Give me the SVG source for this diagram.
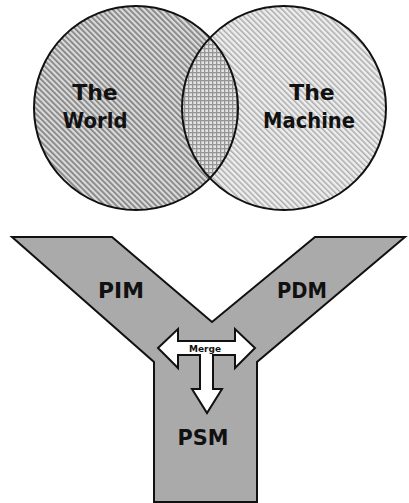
<svg xmlns="http://www.w3.org/2000/svg" width="409" height="503" viewBox="0 0 409 503">
<defs>
<pattern id="hatchDark" patternUnits="userSpaceOnUse" width="4" height="4" patternTransform="rotate(-45)">
<rect width="4" height="4" fill="#dadada"/>
<rect width="1.7" height="4" fill="#808080"/>
</pattern>
<pattern id="hatchLight" patternUnits="userSpaceOnUse" width="4" height="4" patternTransform="rotate(-45)">
<rect width="4" height="4" fill="#eeeeee"/>
<rect width="1.5" height="4" fill="#ababab"/>
</pattern>
<pattern id="cross" patternUnits="userSpaceOnUse" width="4" height="4">
<rect width="4" height="4" fill="#e4e4e4"/>
<rect width="1.3" height="4" fill="#959595"/>
<rect width="4" height="1.3" fill="#959595"/>
</pattern>
<clipPath id="leftClip"><circle cx="136" cy="108" r="102"/></clipPath>
</defs>
<style>
.lbl{font-family:"DejaVu Sans",sans-serif;font-weight:bold;fill:#111;text-anchor:middle}
.outline{stroke:#111;stroke-width:2;stroke-linejoin:miter}
</style>
<g id="world">
<circle cx="136" cy="108" r="102" fill="url(#hatchDark)"/>
</g>
<g id="machine">
<circle cx="284" cy="108" r="102" fill="url(#hatchLight)"/>
<circle cx="284" cy="108" r="102" fill="url(#cross)" clip-path="url(#leftClip)"/>
</g>
<g id="circle-outlines" fill="none" class="outline">
<circle cx="136" cy="108" r="102"/>
<circle cx="284" cy="108" r="102"/>
</g>
<text class="lbl" x="95" y="100" font-size="22">The</text>
<text class="lbl" x="95" y="128" font-size="22" textLength="65" lengthAdjust="spacingAndGlyphs">World</text>
<text class="lbl" x="312" y="100" font-size="22">The</text>
<text class="lbl" x="309" y="128" font-size="22" textLength="92" lengthAdjust="spacingAndGlyphs">Machine</text>
<g id="y-shape">
<polygon class="outline" fill="#aaaaaa" points="12,237 112,237 212,322 315,237 405,237 257,362 257,502 154,502 154,362"/>
<text class="lbl" x="121" y="298" font-size="22" textLength="46" lengthAdjust="spacingAndGlyphs">PIM</text>
<text class="lbl" x="302" y="298" font-size="22" textLength="50" lengthAdjust="spacingAndGlyphs">PDM</text>
<text class="lbl" x="203" y="445" font-size="22" textLength="51" lengthAdjust="spacingAndGlyphs">PSM</text>
</g>
<g id="connectors">
<polygon class="outline" fill="#ffffff" stroke-width="1.5" points="158,348 178,329 178,341 235,341 235,329 255,348 235,368 235,355 213,355 213,389 222,389 207,413 192,389 200,389 200,355 178,355 178,368"/>
<text class="lbl" x="205" y="352" font-size="8.5" textLength="32" lengthAdjust="spacingAndGlyphs">Merge</text>
</g>
</svg>
